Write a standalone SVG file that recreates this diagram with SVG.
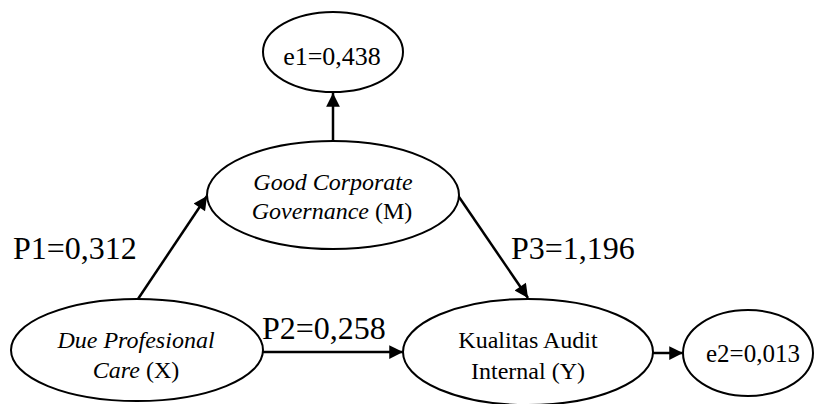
<svg xmlns="http://www.w3.org/2000/svg" width="814" height="404" viewBox="0 0 814 404">
<style>
.n{fill:#fff;stroke:#000;stroke-width:2}
.c{stroke:#000;stroke-width:2.5;fill:none}
text{font-family:"Liberation Serif",serif;fill:#000;text-anchor:middle}
.t{font-size:24px}
.e{font-size:26px}
.p{font-size:32px;text-anchor:start}
.i{font-style:italic}
</style>
<defs>
<marker id="ah" viewBox="0 0 10 10" refX="10" refY="5" markerWidth="6.5" markerHeight="5.5" markerUnits="strokeWidth" orient="auto">
<path d="M0,0L10,5L0,10z" fill="#000"/>
</marker>
</defs>
<g id="connectors">
<line class="c" x1="333" y1="141" x2="333" y2="93" marker-end="url(#ah)"/>
<line class="c" x1="138" y1="299" x2="207" y2="196" marker-end="url(#ah)"/>
<line class="c" x1="457" y1="194" x2="528" y2="298" marker-end="url(#ah)"/>
<line class="c" x1="263" y1="352" x2="403" y2="352" marker-end="url(#ah)"/>
<line class="c" x1="653" y1="353" x2="683" y2="353" marker-end="url(#ah)"/>
</g>
<g id="e1">
<ellipse class="n" cx="333" cy="52" rx="70" ry="40"/>
<text class="e" x="332" y="65">e1=0,438</text>
</g>
<g id="gcg">
<ellipse class="n" cx="333" cy="195" rx="126" ry="54"/>
<text class="t" x="333" y="190"><tspan class="i">Good Corporate</tspan></text>
<text class="t" x="332" y="219"><tspan class="i">Governance</tspan> (M)</text>
</g>
<g id="dpc">
<ellipse class="n" cx="137" cy="350" rx="126" ry="51"/>
<text class="t" x="136" y="348"><tspan class="i">Due Profesional</tspan></text>
<text class="t" x="136" y="378"><tspan class="i">Care</tspan> (X)</text>
</g>
<g id="kai">
<ellipse class="n" cx="528" cy="352" rx="125" ry="53"/>
<text class="t" x="528" y="348">Kualitas Audit</text>
<text class="t" x="528" y="379">Internal (Y)</text>
</g>
<g id="e2">
<ellipse class="n" cx="748" cy="353" rx="65" ry="43"/>
<text class="e" x="753" y="362" style="font-size:25px">e2=0,013</text>
</g>
<g id="labels">
<text class="p" x="13" y="259">P1=0,312</text>
<text class="p" x="511" y="259">P3=1,196</text>
<text class="p" x="262" y="339">P2=0,258</text>
</g>
</svg>
